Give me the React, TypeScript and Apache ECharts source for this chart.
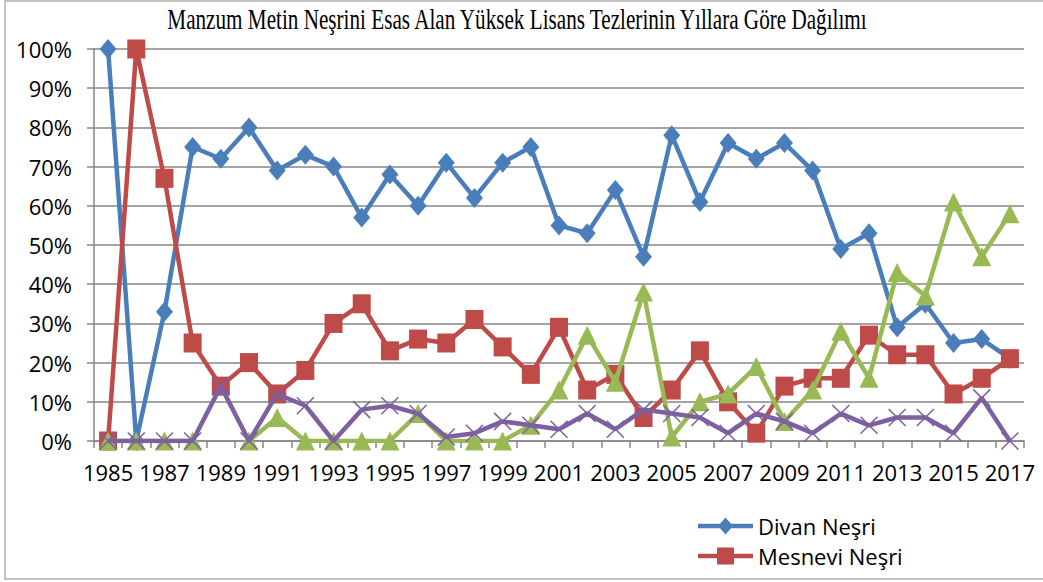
import React, { useEffect, useRef } from "react";
import * as echarts from "echarts";

const years: string[] = [
  "1985", "1986", "1987", "1988", "1989", "1990", "1991", "1992", "1993", "1994", "1995",
  "1996", "1997", "1998", "1999", "2000", "2001", "2002", "2003", "2004", "2005", "2006",
  "2007", "2008", "2009", "2010", "2011", "2012", "2013", "2014", "2015", "2016", "2017",
];

const divan: (number | null)[] = [
  100, 0, 33, 75, 72, 80, 69, 73, 70, 57, 68, 60, 71, 62, 71, 75, 55, 53, 64, 47, 78, 61,
  76, 72, 76, 69, 49, 53, 29, 35, 25, 26, 21,
];

const mesnevi: (number | null)[] = [
  0, 100, 67, 25, 14, 20, 12, 18, 30, 35, 23, 26, 25, 31, 24, 17, 29, 13, 17, 6, 13, 23,
  10, 2, 14, 16, 16, 27, 22, 22, 12, 16, 21,
];

const seriesThree: (number | null)[] = [
  0, 0, 0, 0, null, 0, 6, 0, 0, 0, 0, 7, 0, 0, 0, 4, 13, 27, 15, 38, 1, 10,
  12, 19, 5, 13, 28, 16, 43, 37, 61, 47, 58,
];

const seriesFour: (number | null)[] = [
  0, 0, 0, 0, 14, 0, 12, 9, 0, 8, 9, 7, 1, 2, 5, 4, 3, 7, 3, 8, 7, 6,
  2, 7, 5, 2, 7, 4, 6, 6, 2, 11, 0,
];

const titleText = "Manzum Metin Neşrini Esas Alan Yüksek Lisans Tezlerinin Yıllara Göre Dağılımı";
const legendNames = ["Divan Neşri", "Mesnevi Neşri"];

const BLUE = "#4A7EBB";
const RED = "#BE4B48";
const GREEN = "#98B954";
const PURPLE = "#7D60A0";
const GRID = "#868686";
const FONT = "Open Sans";

const ICON_DIAMOND = "path://M0 6.25L55 6.25L55 10.75L0 10.75ZM27.5 0L35 8.5L27.5 17L20 8.5Z";
const ICON_SQUARE = "path://M0 6.25L55 6.25L55 10.75L0 10.75ZM19 0L36 0L36 17L19 17Z";

export default function App() {
  const ref = useRef<HTMLDivElement>(null);

  useEffect(() => {
    document.body.style.margin = "0";
    if (!ref.current) return;
    const chart = echarts.init(ref.current, undefined, { renderer: "svg" });

    const lineSeries = (name: string | undefined, data: (number | null)[], color: string, symbol: string, size: any, z: number, extra: any = {}) => ({
      type: "line",
      name,
      data,
      symbol,
      symbolSize: size,
      showSymbol: true,
      showAllSymbol: true,
      connectNulls: false,
      z,
      lineStyle: { color, width: 4.5 },
      itemStyle: { color, ...extra },
      emphasis: { disabled: true },
    });

    chart.setOption({
      animation: false,
      backgroundColor: "#ffffff",
      graphic: [
        {
          type: "rect",
          shape: { x: 5, y: 1, width: 1100, height: 578 },
          style: { fill: "none", stroke: "#b0b0b0", lineWidth: 1.5 },
          silent: true,
          z: -10,
        },
        {
          type: "text",
          x: 517,
          y: 19,
          scaleX: 0.73,
          style: {
            text: titleText,
            font: '29px "Liberation Serif"',
            fill: "#000000",
            textAlign: "center",
            textVerticalAlign: "middle",
          },
          silent: true,
        },
      ],
      grid: { left: 94, right: 19, top: 49, bottom: 141, containLabel: false },
      legend: {
        data: [
          { name: legendNames[0], icon: ICON_DIAMOND },
          { name: legendNames[1], icon: ICON_SQUARE },
        ],
        orient: "vertical",
        left: 693,
        top: 510,
        itemWidth: 55,
        itemHeight: 17,
        itemGap: 8,
        textStyle: { fontFamily: FONT, fontSize: 22, color: "#000000" },
      },
      xAxis: {
        type: "category",
        data: years,
        boundaryGap: true,
        axisLine: { show: true, lineStyle: { color: GRID, width: 1.5 } },
        axisTick: { show: true, interval: 0, length: 7, lineStyle: { color: GRID, width: 1.5 } },
        axisLabel: { interval: 1, color: "#000000", fontFamily: FONT, fontSize: 22, margin: 20 },
        splitLine: { show: false },
      },
      yAxis: {
        type: "value",
        min: 0,
        max: 100,
        interval: 10,
        axisLine: { show: true, lineStyle: { color: GRID, width: 1.5 } },
        axisTick: { show: true, length: 7, lineStyle: { color: GRID, width: 1.5 } },
        axisLabel: { formatter: "{value}%", color: "#000000", fontFamily: FONT, fontSize: 22, margin: 22 },
        splitLine: { show: true, lineStyle: { color: GRID, width: 1.5 } },
      },
      series: [
        lineSeries(legendNames[0], divan, BLUE, "diamond", [17, 20], 2),
        lineSeries(legendNames[1], mesnevi, RED, "rect", [18, 19], 3),
        lineSeries(undefined, seriesThree, GREEN, "triangle", [19, 19], 4),
        lineSeries(undefined, seriesFour, PURPLE, "path://M0,0L16,16M16,0L0,16", 17, 5, {
          borderColor: PURPLE,
          borderWidth: 1.5,
        }),
      ],
    });

    return () => chart.dispose();
  }, []);

  return <div ref={ref} style={{ width: 1043, height: 582 }} />;
}
